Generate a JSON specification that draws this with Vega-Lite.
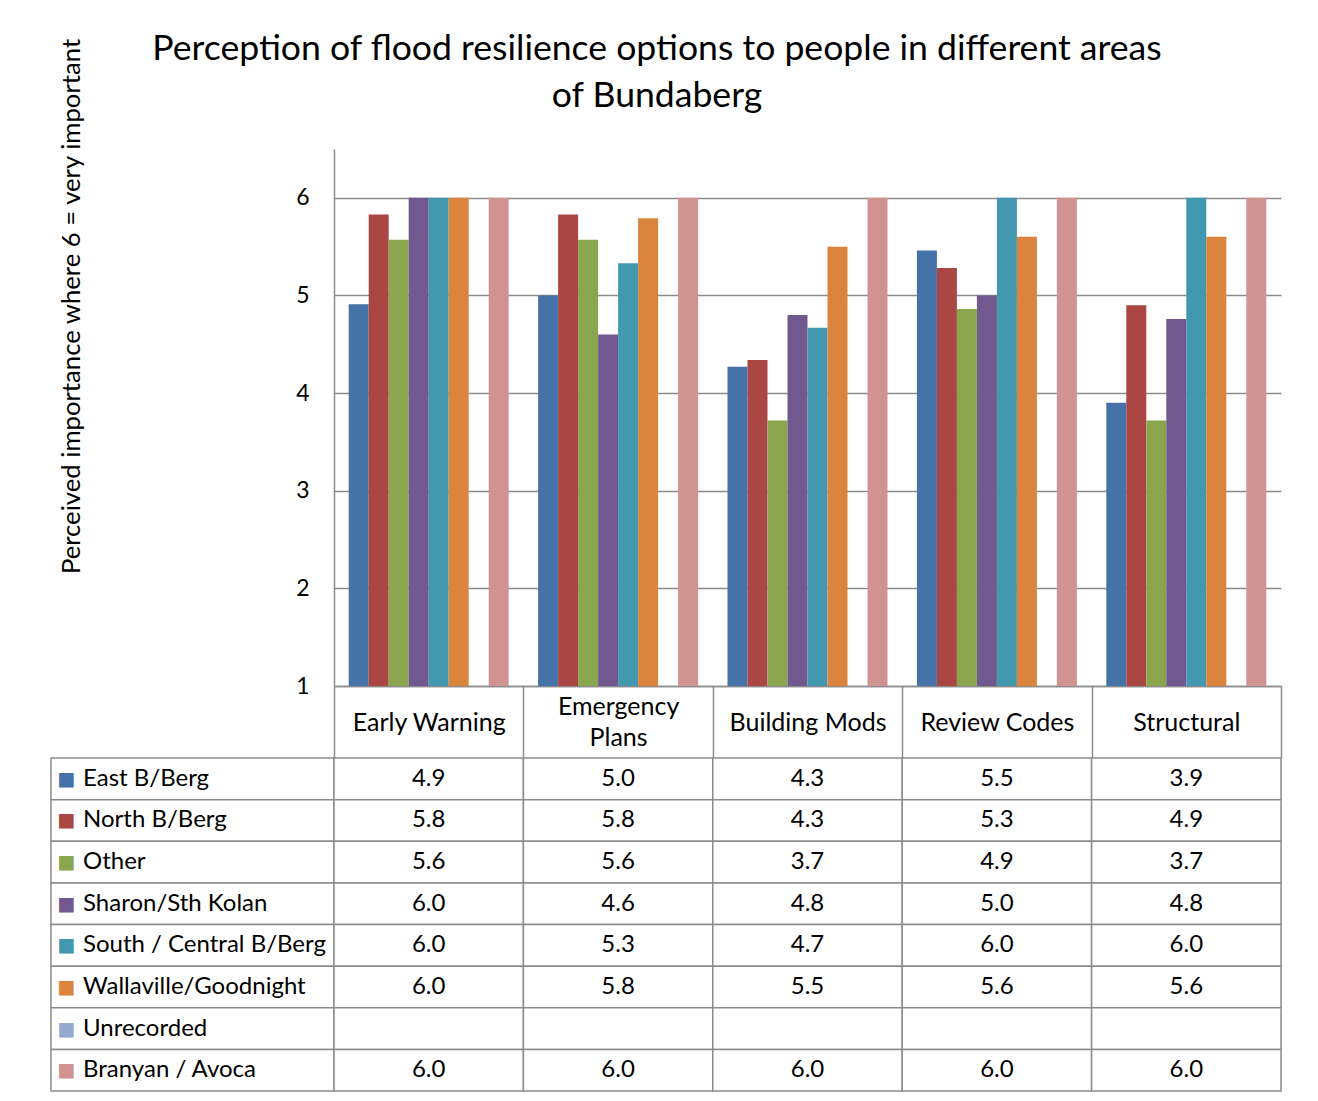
{
  "$schema": "https://vega.github.io/schema/vega-lite/v6.json",
  "padding": {"left": 50, "top": 31, "right": 30, "bottom": 8},
  "autosize": {"type": "pad"},
  "title": {
    "text": ["Perception of flood resilience options to people in different areas", "of Bundaberg"],
    "anchor": "middle",
    "font": "Lato",
    "fontSize": 35.6,
    "fontWeight": "normal",
    "color": "#000000",
    "lineHeight": 47,
    "offset": -77,
    "dx": -9
  },
  "datasets": {
    "scores": [
      {"option": "Early Warning", "area": "East B/Berg", "score": 4.91},
      {"option": "Early Warning", "area": "North B/Berg", "score": 5.83},
      {"option": "Early Warning", "area": "Other", "score": 5.57},
      {"option": "Early Warning", "area": "Sharon/Sth Kolan", "score": 6.0},
      {"option": "Early Warning", "area": "South / Central B/Berg", "score": 6.0},
      {"option": "Early Warning", "area": "Wallaville/Goodnight", "score": 6.0},
      {"option": "Early Warning", "area": "Unrecorded", "score": null},
      {"option": "Early Warning", "area": "Branyan / Avoca", "score": 6.0},
      {"option": "Emergency Plans", "area": "East B/Berg", "score": 5.0},
      {"option": "Emergency Plans", "area": "North B/Berg", "score": 5.83},
      {"option": "Emergency Plans", "area": "Other", "score": 5.57},
      {"option": "Emergency Plans", "area": "Sharon/Sth Kolan", "score": 4.6},
      {"option": "Emergency Plans", "area": "South / Central B/Berg", "score": 5.33},
      {"option": "Emergency Plans", "area": "Wallaville/Goodnight", "score": 5.79},
      {"option": "Emergency Plans", "area": "Unrecorded", "score": null},
      {"option": "Emergency Plans", "area": "Branyan / Avoca", "score": 6.0},
      {"option": "Building Mods", "area": "East B/Berg", "score": 4.27},
      {"option": "Building Mods", "area": "North B/Berg", "score": 4.34},
      {"option": "Building Mods", "area": "Other", "score": 3.72},
      {"option": "Building Mods", "area": "Sharon/Sth Kolan", "score": 4.8},
      {"option": "Building Mods", "area": "South / Central B/Berg", "score": 4.67},
      {"option": "Building Mods", "area": "Wallaville/Goodnight", "score": 5.5},
      {"option": "Building Mods", "area": "Unrecorded", "score": null},
      {"option": "Building Mods", "area": "Branyan / Avoca", "score": 6.0},
      {"option": "Review Codes", "area": "East B/Berg", "score": 5.46},
      {"option": "Review Codes", "area": "North B/Berg", "score": 5.28},
      {"option": "Review Codes", "area": "Other", "score": 4.86},
      {"option": "Review Codes", "area": "Sharon/Sth Kolan", "score": 5.0},
      {"option": "Review Codes", "area": "South / Central B/Berg", "score": 6.0},
      {"option": "Review Codes", "area": "Wallaville/Goodnight", "score": 5.6},
      {"option": "Review Codes", "area": "Unrecorded", "score": null},
      {"option": "Review Codes", "area": "Branyan / Avoca", "score": 6.0},
      {"option": "Structural", "area": "East B/Berg", "score": 3.9},
      {"option": "Structural", "area": "North B/Berg", "score": 4.9},
      {"option": "Structural", "area": "Other", "score": 3.72},
      {"option": "Structural", "area": "Sharon/Sth Kolan", "score": 4.76},
      {"option": "Structural", "area": "South / Central B/Berg", "score": 6.0},
      {"option": "Structural", "area": "Wallaville/Goodnight", "score": 5.6},
      {"option": "Structural", "area": "Unrecorded", "score": null},
      {"option": "Structural", "area": "Branyan / Avoca", "score": 6.0}
    ]
  },
  "columns": 2,
  "spacing": {"row": 72, "column": 0},
  "bounds": "flush",
  "concat": [
    {
      "width": 283,
      "height": 537,
      "data": {"values": []},
      "mark": "rect",
      "encoding": {}
    },
    {
      "width": 947,
      "height": 537,
      "data": {"name": "scores"},
      "mark": {"type": "bar"},
      "encoding": {
        "x": {
          "field": "option",
          "type": "nominal",
          "sort": ["Early Warning", "Emergency Plans", "Building Mods", "Review Codes", "Structural"],
          "scale": {"paddingInner": 0, "paddingOuter": 0},
          "axis": {
            "title": null,
            "orient": "bottom",
            "tickBand": "extent",
            "tickSize": 72,
            "tickColor": "#8c8c8c",
            "tickWidth": 1.5,
            "domainColor": "#8c8c8c",
            "domainWidth": 1.5,
            "labelFont": "Lato",
            "labelFontSize": 25,
            "labelColor": "#000000",
            "labelAngle": 0,
            "labelPadding": -36,
            "labelBaseline": {"condition": {"test": "datum.value == 'Emergency Plans'", "value": "line-bottom"}, "value": "middle"},
            "labelLineHeight": 31,
            "labelLimit": 0,
            "labelExpr": "datum.value == 'Emergency Plans' ? ['Emergency', 'Plans'] : datum.value"
          }
        },
        "xOffset": {
          "field": "area",
          "type": "nominal",
          "scale": {
            "domain": ["East B/Berg", "North B/Berg", "Other", "Sharon/Sth Kolan", "South / Central B/Berg", "Wallaville/Goodnight", "Unrecorded", "Branyan / Avoca"],
            "paddingInner": 0,
            "paddingOuter": 0.735
          }
        },
        "y": {
          "field": "score",
          "type": "quantitative",
          "scale": {"domain": [1, 6.5], "zero": false, "nice": false},
          "axis": {
            "title": "Perceived importance where 6 = very important",
            "values": [1, 2, 3, 4, 5, 6],
            "grid": true,
            "gridColor": "#8c8c8c",
            "gridWidth": 1.5,
            "domainColor": "#8c8c8c",
            "domainWidth": 1.5,
            "ticks": false,
            "labelFont": "Lato",
            "labelFontSize": 23,
            "labelColor": "#000000",
            "labelPadding": 25,
            "titleFont": "Lato",
            "titleFontSize": 25.7,
            "titleFontWeight": "normal",
            "titleColor": "#000000",
            "titleX": -250,
            "titleY": 157
          }
        },
        "y2": {"datum": 1},
        "color": {
          "field": "area",
          "type": "nominal",
          "scale": {
            "domain": ["East B/Berg", "North B/Berg", "Other", "Sharon/Sth Kolan", "South / Central B/Berg", "Wallaville/Goodnight", "Unrecorded", "Branyan / Avoca"],
            "range": ["#4572A7", "#AA4643", "#89A54E", "#71588F", "#4198AF", "#DB843D", "#93A9CF", "#D19392"]
          },
          "legend": null
        }
      }
    },
    {
      "width": 283,
      "height": 333,
      "data": {"name": "scores"},
      "transform": [{"filter": "datum.option == 'Early Warning'"}],
      "encoding": {
        "y": {
          "field": "area",
          "type": "nominal",
          "scale": {
            "domain": ["East B/Berg", "North B/Berg", "Other", "Sharon/Sth Kolan", "South / Central B/Berg", "Wallaville/Goodnight", "Unrecorded", "Branyan / Avoca"],
            "paddingInner": 0,
            "paddingOuter": 0
          },
          "axis": null
        }
      },
      "layer": [
        {"mark": {"type": "rect", "fill": "#ffffff", "stroke": "#8c8c8c", "strokeWidth": 1.5}},
        {
          "mark": {"type": "text", "text": "■", "font": "DejaVu Sans", "fontSize": 19, "align": "left", "dx": -135},
          "encoding": {
            "color": {
              "field": "area",
              "type": "nominal",
              "scale": {
                "domain": ["East B/Berg", "North B/Berg", "Other", "Sharon/Sth Kolan", "South / Central B/Berg", "Wallaville/Goodnight", "Unrecorded", "Branyan / Avoca"],
                "range": ["#4572A7", "#AA4643", "#89A54E", "#71588F", "#4198AF", "#DB843D", "#93A9CF", "#D19392"]
              },
              "legend": null
            }
          }
        },
        {
          "mark": {"type": "text", "font": "Lato", "fontSize": 24, "align": "left", "dx": -109.5, "color": "#000000"},
          "encoding": {"text": {"field": "area", "type": "nominal"}}
        }
      ]
    },
    {
      "width": 947,
      "height": 333,
      "data": {"name": "scores"},
      "encoding": {
        "x": {
          "field": "option",
          "type": "nominal",
          "sort": ["Early Warning", "Emergency Plans", "Building Mods", "Review Codes", "Structural"],
          "scale": {"paddingInner": 0, "paddingOuter": 0},
          "axis": null
        },
        "y": {
          "field": "area",
          "type": "nominal",
          "scale": {
            "domain": ["East B/Berg", "North B/Berg", "Other", "Sharon/Sth Kolan", "South / Central B/Berg", "Wallaville/Goodnight", "Unrecorded", "Branyan / Avoca"],
            "paddingInner": 0,
            "paddingOuter": 0
          },
          "axis": null
        }
      },
      "layer": [
        {"mark": {"type": "rect", "fill": "#ffffff", "stroke": "#8c8c8c", "strokeWidth": 1.5}},
        {
          "transform": [{"filter": "isValid(datum.score)"}],
          "mark": {"type": "text", "font": "Lato", "fontSize": 24, "color": "#000000"},
          "encoding": {"text": {"field": "score", "type": "quantitative", "format": ".1f"}}
        }
      ]
    }
  ],
  "config": {
    "view": {"stroke": null},
    "font": "Lato"
  }
}
